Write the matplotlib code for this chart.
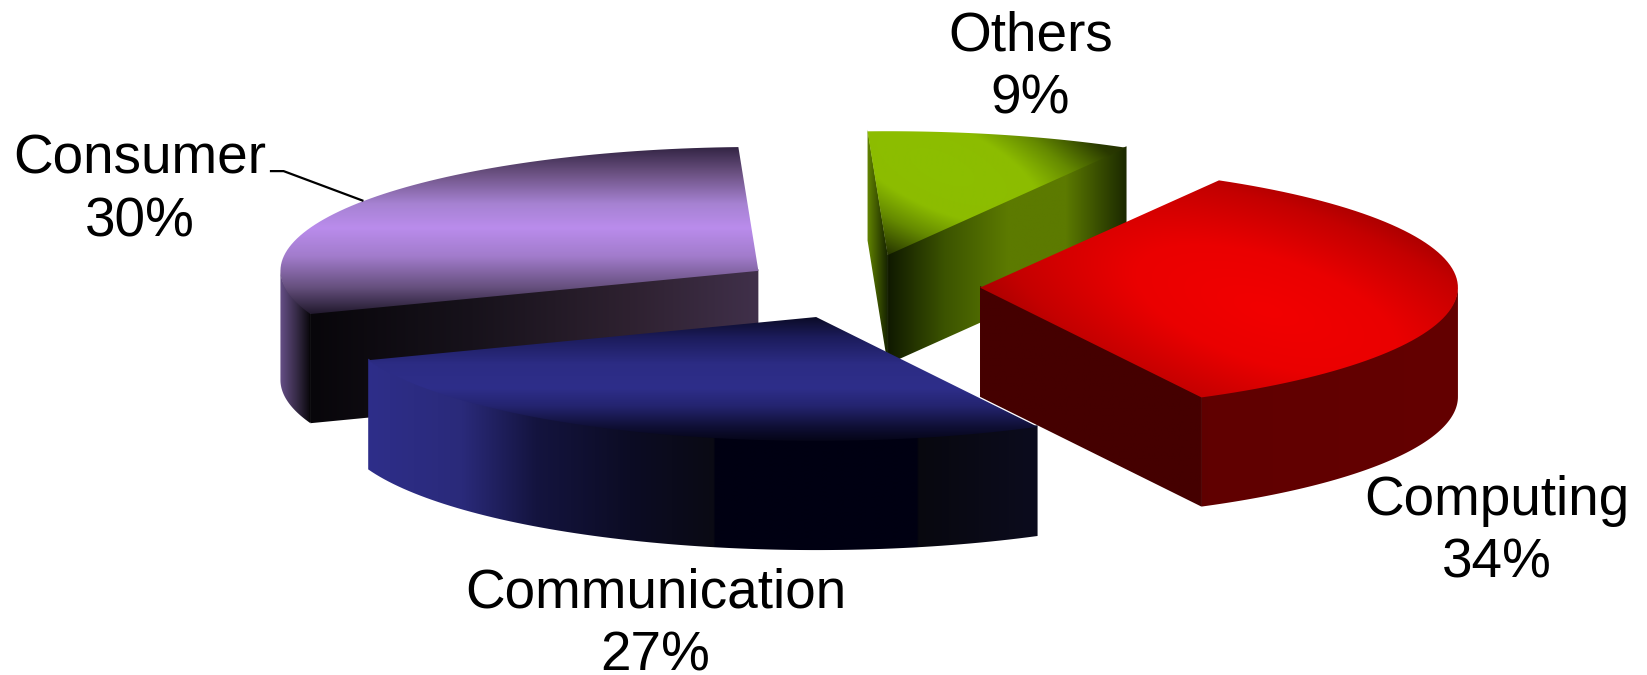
import numpy as np
import matplotlib
matplotlib.use("Agg")
import matplotlib.pyplot as plt
from matplotlib.patches import Polygon

plt.rcParams["font.family"] = ["Liberation Sans", "DejaVu Sans"]

# drawn clockwise, starting from the upper right
labels = ["Computing", "Communication", "Consumer", "Others"]
shares = [34, 27, 30, 9]
start_angle = 60

label_pos = {"Computing": (1425, 507), "Communication": (624, 595),
             "Consumer": (133, 182), "Others": (981, 65)}
centers = {"Computing": (933, 274), "Communication": (777, 302),
           "Consumer": (722, 258), "Others": (845, 243)}

RX, RY, DEPTH = 455, 118, 104
W, H = 1568, 643


def hexrgb(c):
    return np.array(matplotlib.colors.to_rgb(c))


def ramp(t, stops):
    pos = [s[0] for s in stops]
    cols = np.array([hexrgb(s[1]) for s in stops])
    return np.dstack([np.interp(t, pos, cols[:, i]) for i in range(3)])


def fill(ax, pts, img_func):
    # gradient image clipped to a polygon
    pts = np.array(pts)
    x0, y0 = pts.min(axis=0) - 2
    x1, y1 = pts.max(axis=0) + 2
    xx, yy = np.meshgrid(np.arange(x0, x1 + 1), np.arange(y0, y1 + 1))
    im = ax.imshow(img_func(xx, yy), extent=(x0, x1, y1, y0), aspect="auto",
                   interpolation="bilinear", origin="upper", zorder=ax.z)
    patch = Polygon(pts, closed=True, transform=ax.transData)
    im.set_clip_path(patch)
    ax.z += 1


def seam(ax, pt, color):
    # covers the light hairline where two side faces meet
    ax.plot([pt[0], pt[0]], [pt[1], pt[1] + DEPTH - 1], color=color, lw=1.2,
            solid_capstyle="butt", zorder=ax.z)
    ax.z += 1


def arc(c, a, b, n=80):
    t = np.radians(np.linspace(a, b, n))
    return np.column_stack([c[0] + RX * np.cos(t), c[1] - RY * np.sin(t)])


def horiz(stops):
    return lambda xx, yy: ramp(xx, stops)


def vert(stops):
    return lambda xx, yy: ramp(yy, stops)


def radial(cx, cy, a, b, tilt, stops):
    ca, sa = np.cos(np.radians(tilt)), np.sin(np.radians(tilt))

    def img(xx, yy):
        along = (xx - cx) * ca + (yy - cy) * sa
        perp = -(xx - cx) * sa + (yy - cy) * ca
        return ramp(np.hypot(along / a, perp / b), stops)
    return img


def side(top_pts):
    # top edge runs a little under the top face, so no light seam shows
    top_pts = np.array(top_pts, dtype=float)
    return np.vstack([top_pts + [0, -1.5], top_pts[::-1] + [0, DEPTH]])


# wedge angles from the shares
ends = start_angle - np.cumsum(shares) * 3.6
starts = np.r_[start_angle, ends[:-1]]
angle = {l: (s, e) for l, s, e in zip(labels, starts, ends)}

fig = plt.figure(figsize=(16.47, 6.75), dpi=100)
ax = fig.add_axes([0, 0, 1, 1])
ax.z = 1

# Others
c = centers["Others"]
a0, a1 = angle["Others"]
edge = arc(c, a0, a1)
fill(ax, side([edge[0], c]), horiz([(827, "#5f8000"), (845, "#1a2800")]))
fill(ax, side([c, edge[-1]]), horiz([(845, "#0f1800"), (900, "#3c5400"), (960, "#5c7a00"),
                                     (1015, "#5c7a00"), (1072, "#1c2a00")]))
seam(ax, c, "#141f00")
fill(ax, np.vstack([[c], edge]),
     radial(897, 160, 125, 50, 24,
            [(0, "#8cbf00"), (0.8, "#8cbc00"), (1.3, "#658a00"), (1.9, "#2a3a00"), (2.2, "#222e00")]))

# Computing
c = centers["Computing"]
a0, a1 = angle["Computing"]
edge = arc(c, a0, a1)
fill(ax, side(arc(c, 0, a1)), horiz([(900, "#5c0000"), (1400, "#640000")]))
fill(ax, side([c, edge[-1]]), horiz([(900, "#450000"), (1200, "#450000")]))
seam(ax, edge[-1], "#4a0000")
fill(ax, np.vstack([[c], edge]),
     radial(1205, 295, 260, 100, 18,
            [(0, "#f20000"), (0.5, "#ea0000"), (1.0, "#c40000"), (1.3, "#a00000"), (1.6, "#800000")]))

# Consumer
c = centers["Consumer"]
a0, a1 = angle["Consumer"]
edge = arc(c, a0, a1)
fill(ax, side(arc(c, -180, a0)), horiz([(268, "#624c82"), (283, "#352a45"), (296, "#08060a")]))
fill(ax, side([c, edge[0]]), horiz([(295, "#08060a"), (450, "#17121b"), (600, "#2e2130"),
                                    (722, "#40304a")]))
seam(ax, edge[0], "#08060a")
fill(ax, np.vstack([[c], edge]),
     vert([(136, "#281c38"), (165, "#6a5080"), (195, "#a682d2"), (218, "#ba8cec"),
           (245, "#a27ccc"), (275, "#66507e"), (300, "#221a2e")]))

# Communication
c = centers["Communication"]
a0, a1 = angle["Communication"]
edge = arc(c, a0, a1)
fill(ax, side(edge), horiz([(348, "#2e2e8a"), (440, "#2a2a7a"), (510, "#14143f"), (600, "#0c0c24"),
                            (680, "#0a0a14"), (681, "#000012"), (874, "#000012"),
                            (875, "#08080f"), (990, "#0c0c1e")]))
fill(ax, np.vstack([[c], edge]),
     vert([(300, "#090920"), (322, "#1c1c5c"), (347, "#2c2c84"), (370, "#2e2e8a"),
           (387, "#242470"), (407, "#0f0f35"), (422, "#040414")]))

ax.plot([258, 270, 345], [163, 163, 191], color="black", lw=1.6, zorder=50)

for name, share in zip(labels, shares):
    x, y = label_pos[name]
    ax.text(x, y, f"{name}\n{share}%", ha="center", va="center", fontsize=39.5,
            linespacing=1.28, color="black", zorder=60)

ax.set_xlim(0, W)
ax.set_ylim(H, 0)
ax.axis("off")
fig.savefig("out.png", dpi=100, facecolor="white")
